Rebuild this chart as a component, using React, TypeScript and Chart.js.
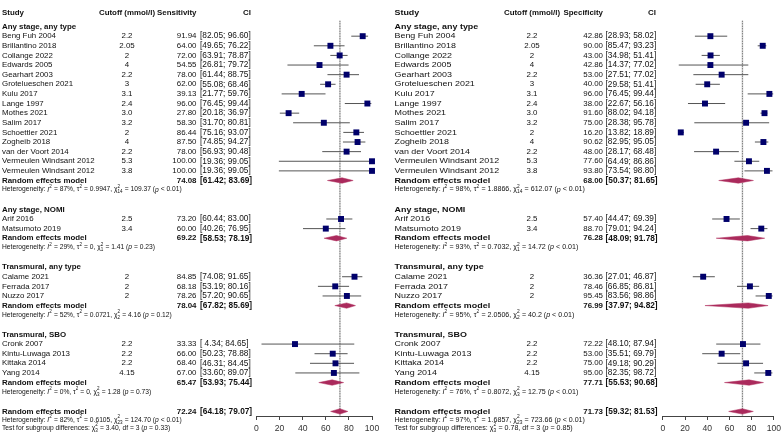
import React, { useEffect, useRef } from 'react';
import { Chart, registerables } from 'chart.js';

Chart.register(...registerables);

const FONT = "'Liberation Sans', Arial, Helvetica, sans-serif";

// ---------------- data ----------------
const groupNames = ['Any stage, any type', 'Any stage, NOMI', 'Transmural, any type', 'Transmural, SBO'];

const studies = [
  ['Beng Fuh 2004', 'Brillantino 2018', 'Collange 2022', 'Edwards 2005', 'Gearhart 2003', 'Grotelueschen 2021', 'Kulu 2017', 'Lange 1997', 'Mothes 2021', 'Salim 2017', 'Schoettler 2021', 'Zogheib 2018', 'van der Voort 2014', 'Vermeulen Windsant 2012', 'Vermeulen Windsant 2012'],
  ['Arif 2016', 'Matsumoto 2019'],
  ['Calame 2021', 'Ferrada 2017', 'Nuzzo 2017'],
  ['Cronk 2007', 'Kintu-Luwaga 2013', 'Kittaka 2014', 'Yang 2014'],
];

const cutoffs = [
  ['2.2', '2.05', '2', '4', '2.2', '3', '3.1', '2.4', '3.0', '3.2', '2', '4', '2.2', '5.3', '3.8'],
  ['2.5', '3.4'],
  ['2', '2', '2'],
  ['2.2', '2.2', '2.2', '4.15'],
];

const sensEst = [
  [91.94, 64.0, 72.0, 54.55, 78.0, 62.0, 39.13, 96.0, 27.8, 58.3, 86.44, 87.5, 78.0, 100.0, 100.0],
  [73.2, 60.0],
  [84.85, 68.18, 78.26],
  [33.33, 66.0, 68.4, 67.0],
];
const sensLo = [
  [82.05, 49.65, 63.91, 26.81, 61.44, 55.08, 21.77, 76.45, 20.18, 31.7, 75.16, 74.85, 56.93, 19.36, 19.36],
  [60.44, 40.26],
  [74.08, 53.19, 57.2],
  [4.34, 50.23, 46.31, 33.6],
];
const sensHi = [
  [96.6, 76.22, 78.87, 79.72, 88.75, 68.46, 59.76, 99.44, 36.97, 80.81, 93.07, 94.27, 90.48, 99.05, 99.05],
  [83.0, 76.95],
  [91.65, 80.16, 90.65],
  [84.65, 78.88, 84.45, 89.07],
];
const sensPooled = [
  [74.08, 61.42, 83.69],
  [69.22, 58.53, 78.19],
  [78.04, 67.82, 85.69],
  [65.47, 53.93, 75.44],
];
const sensOverall = [72.24, 64.18, 79.07];
const sensHet = [
  { i2: '87%', tau2: '0.9947', df: '14', q: '109.37', p: '< 0.01' },
  { i2: '29%', tau2: '0', df: '1', q: '1.41', p: '= 0.23' },
  { i2: '52%', tau2: '0.0721', df: '2', q: '4.16', p: '= 0.12' },
  { i2: '0%', tau2: '0', df: '3', q: '1.28', p: '= 0.73' },
];
const sensOverallHet = { i2: '82%', tau2: '0.6105', df: '23', q: '124.70', p: '< 0.01' };
const sensTest = { df: '3', q: '3.40', p: '= 0.33' };

const specEst = [
  [42.86, 90.0, 43.0, 42.86, 53.0, 40.0, 96.0, 38.0, 91.6, 75.0, 16.2, 90.62, 48.0, 77.6, 93.8],
  [57.4, 88.7],
  [36.36, 78.46, 95.45],
  [72.22, 53.0, 75.0, 95.0],
];
const specLo = [
  [28.93, 85.47, 34.98, 14.37, 27.51, 29.58, 76.45, 22.67, 88.02, 28.38, 13.82, 82.95, 28.17, 64.49, 73.54],
  [44.47, 79.01],
  [27.01, 66.85, 83.56],
  [48.1, 35.51, 49.18, 82.35],
];
const specHi = [
  [58.02, 93.23, 51.41, 77.02, 77.02, 51.41, 99.44, 56.16, 94.18, 95.78, 18.89, 95.05, 68.48, 86.86, 98.8],
  [69.39, 94.24],
  [46.87, 86.81, 98.86],
  [87.94, 69.79, 90.29, 98.72],
];
const specPooled = [
  [68.0, 50.37, 81.65],
  [76.28, 48.09, 91.78],
  [76.99, 37.97, 94.82],
  [77.71, 55.53, 90.68],
];
const specOverall = [71.73, 59.32, 81.53];
const specHet = [
  { i2: '98%', tau2: '1.8866', df: '14', q: '612.07', p: '< 0.01' },
  { i2: '93%', tau2: '0.7032', df: '1', q: '14.72', p: '< 0.01' },
  { i2: '95%', tau2: '2.0506', df: '2', q: '40.2', p: '< 0.01' },
  { i2: '76%', tau2: '0.8072', df: '3', q: '12.75', p: '< 0.01' },
];
const specOverallHet = { i2: '97%', tau2: '1.6857', df: '23', q: '723.66', p: '< 0.01' };
const specTest = { df: '3', q: '0.78', p: '= 0.85' };

const xTicks = [0, 20, 40, 60, 80, 100];

// ---------------- layout ----------------
const ROW0 = 32.3; // pixel y of first study row
const ROWH = 9.72; // pixel per row
const PLOT_BOTTOM = 416;
const H = 437;
const W = 392;

type Panel = {
  header: string;
  est: number[][];
  lo: number[][];
  hi: number[][];
  pooled: number[][];
  overall: number[];
  het: any[];
  overallHet: any;
  test: any;
  axisL: number;
  axisR: number;
  cStudy: number;
  cCut: number;
  cVal: number;
  cCI: number;
  cCIhead: number;
  sxLabel: number;
  sxHet: number;
};

const panels: Panel[] = [
  {
    header: 'Sensitivity', est: sensEst, lo: sensLo, hi: sensHi, pooled: sensPooled, overall: sensOverall,
    het: sensHet, overallHet: sensOverallHet, test: sensTest,
    axisL: 256.5, axisR: 372, cStudy: 2, cCut: 127, cVal: 196.5, cCI: 200, cCIhead: 251, sxLabel: 1, sxHet: 1,
  },
  {
    header: 'Specificity', est: specEst, lo: specLo, hi: specHi, pooled: specPooled, overall: specOverall,
    het: specHet, overallHet: specOverallHet, test: specTest,
    axisL: 270.8, axisR: 385.3, cStudy: 2.5, cCut: 140, cVal: 211, cCI: 213.5, cCIhead: 264, sxLabel: 1.13, sxHet: 1.06,
  },
];

const FS_TEXT = 7.9;
const FS_NUM = 7.9;
const FS_CI = 8.3;
const FS_HET = 6.7;

function buildRows() {
  const label: number[] = [];
  const study: number[][] = [];
  const pooled: number[] = [];
  const het: number[] = [];
  let r = -1;
  groupNames.forEach((_, gi) => {
    label.push(r);
    r++;
    study.push(studies[gi].map(() => r++));
    pooled.push(r++);
    het.push(r++);
    r++;
  });
  return { label, study, pooled, het, overall: r };
}
const ROWS = buildRows();

const f2 = (v: number) => v.toFixed(2);
const ciStr = (lo: number, hi: number) => '[' + f2(lo).padStart(5, ' ') + '; ' + f2(hi).padStart(5, ' ') + ']';

type Seg = { t?: string; i?: boolean; sup?: string; sub?: string };

function hetSegs(h: any): Seg[] {
  return [
    { t: 'Heterogeneity: ' }, { t: 'I', i: true }, { sup: '2' }, { t: ' = ' + h.i2 + ', ' },
    { t: 'τ' }, { sup: '2' }, { t: ' = ' + h.tau2 + ', ' },
    { t: 'χ' }, { sup: '2', sub: h.df }, { t: ' = ' + h.q + ' (' }, { t: 'p', i: true }, { t: ' ' + h.p + ')' },
  ];
}
function testSegs(tst: any): Seg[] {
  return [
    { t: 'Test for subgroup differences: ' }, { t: 'χ' }, { sup: '2', sub: tst.df },
    { t: ' = ' + tst.q + ', df = ' + tst.df + ' (' }, { t: 'p', i: true }, { t: ' ' + tst.p + ')' },
  ];
}

function drawRich(ctx: CanvasRenderingContext2D, x: number, y: number, segs: Seg[], size: number, sx: number) {
  ctx.save();
  ctx.translate(x, y);
  ctx.scale(sx, 1);
  let cx = 0;
  ctx.textBaseline = 'middle';
  ctx.textAlign = 'left';
  for (const s of segs) {
    if (s.t !== undefined) {
      ctx.font = (s.i ? 'italic ' : '') + size + 'px ' + FONT;
      ctx.fillText(s.t, cx, 0);
      cx += ctx.measureText(s.t).width;
    } else {
      const ss = size * 0.68;
      ctx.font = ss + 'px ' + FONT;
      let w = 0;
      if (s.sup) {
        ctx.fillText(s.sup, cx, -size * 0.42);
        w = Math.max(w, ctx.measureText(s.sup).width);
      }
      if (s.sub) {
        ctx.fillText(s.sub, cx, size * 0.38);
        w = Math.max(w, ctx.measureText(s.sub).width);
      }
      cx += w + 0.3;
    }
  }
  ctx.restore();
}

function makeChart(canvas: HTMLCanvasElement, p: Panel) {
  const yMin = (0 - ROW0) / ROWH;
  const yMax = (PLOT_BOTTOM - ROW0) / ROWH;
  const datasets: any[] = [];

  // CI whiskers
  p.est.forEach((g, gi) => {
    g.forEach((_, si) => {
      const r = ROWS.study[gi][si];
      datasets.push({
        type: 'scatter', showLine: true, pointRadius: 0, borderColor: '#555555', borderWidth: 1,
        data: [{ x: p.lo[gi][si], y: r }, { x: p.hi[gi][si], y: r }], clip: false, order: 3,
      });
    });
  });
  // squares
  const pts: any[] = [];
  p.est.forEach((g, gi) => g.forEach((v, si) => pts.push({ x: v, y: ROWS.study[gi][si] })));
  datasets.push({
    type: 'scatter', data: pts, pointStyle: 'rect', pointRadius: 4.2, pointBackgroundColor: '#00006b',
    pointBorderWidth: 0, borderWidth: 0, clip: false, order: 1,
  });
  // diamonds
  const dh = 0.28;
  const diamonds = [...p.pooled.map((d, gi) => ({ d, r: ROWS.pooled[gi] })), { d: p.overall, r: ROWS.overall }];
  diamonds.forEach(({ d, r }) => {
    datasets.push({
      type: 'scatter', showLine: true, pointRadius: 0, tension: 0,
      borderColor: '#b0305f', borderWidth: 0.5, backgroundColor: '#aa2a5c', fill: 'shape', clip: false, order: 2,
      data: [{ x: d[1], y: r }, { x: d[0], y: r - dh }, { x: d[2], y: r }, { x: d[0], y: r + dh }, { x: d[1], y: r }],
    });
  });

  const refLine = {
    id: 'refLine',
    beforeDatasetsDraw(chart: any) {
      const ctx = chart.ctx;
      const x = chart.scales.x.getPixelForValue(p.overall[0]);
      const y0 = chart.scales.y.getPixelForValue(-1.6);
      const y1 = chart.chartArea.bottom;
      ctx.save();
      ctx.strokeStyle = '#d2d2d2';
      ctx.lineWidth = 1.6;
      ctx.beginPath(); ctx.moveTo(x, y0); ctx.lineTo(x, y1); ctx.stroke();
      ctx.strokeStyle = '#666666';
      ctx.lineWidth = 1;
      ctx.setLineDash([1, 1.5]);
      ctx.beginPath(); ctx.moveTo(x, y0); ctx.lineTo(x, y1); ctx.stroke();
      ctx.restore();
    },
  };

  const textPlugin = {
    id: 'forestText',
    afterDraw(chart: any) {
      const ctx: CanvasRenderingContext2D = chart.ctx;
      const ys = chart.scales.y;
      const Y = (r: number) => ys.getPixelForValue(r);
      const fnt = (b: boolean, s: number) => (b ? 'bold ' : '') + s + 'px ' + FONT;
      ctx.save();
      ctx.fillStyle = '#111';
      ctx.textBaseline = 'middle';
      const put = (t: string, x: number, y: number, align: CanvasTextAlign, font: string, sx = 1) => {
        ctx.save();
        ctx.font = font;
        ctx.textAlign = align;
        ctx.translate(x, y);
        ctx.scale(sx, 1);
        ctx.fillText(t, 0, 0);
        ctx.restore();
      };
      const sl = p.sxLabel;
      // header
      const hy = Y(-2.42);
      put('Study', p.cStudy, hy, 'left', fnt(true, FS_TEXT), sl);
      put('Cutoff (mmol/l)', p.cCut, hy, 'center', fnt(true, FS_TEXT));
      put(p.header, p.cVal, hy, 'right', fnt(true, FS_TEXT));
      put('CI', p.cCIhead, hy, 'right', fnt(true, FS_TEXT));

      groupNames.forEach((gname, gi) => {
        put(gname, p.cStudy, Y(ROWS.label[gi]), 'left', fnt(true, FS_TEXT), sl);
        studies[gi].forEach((s, si) => {
          const y = Y(ROWS.study[gi][si]);
          put(s, p.cStudy, y, 'left', fnt(false, FS_TEXT), sl);
          put(cutoffs[gi][si], p.cCut, y, 'center', fnt(false, FS_NUM));
          put(f2(p.est[gi][si]), p.cVal, y, 'right', fnt(false, FS_NUM));
          put(ciStr(p.lo[gi][si], p.hi[gi][si]), p.cCI, y, 'left', fnt(false, FS_CI));
        });
        const py = Y(ROWS.pooled[gi]);
        put('Random effects model', p.cStudy, py, 'left', fnt(true, FS_TEXT), sl);
        put(f2(p.pooled[gi][0]), p.cVal, py, 'right', fnt(true, FS_NUM));
        put(ciStr(p.pooled[gi][1], p.pooled[gi][2]), p.cCI, py, 'left', fnt(true, FS_CI));
        drawRich(ctx, p.cStudy, Y(ROWS.het[gi] - 0.05), hetSegs(p.het[gi]), FS_HET, p.sxHet);
      });
      const oy = Y(ROWS.overall);
      put('Random effects model', p.cStudy, oy, 'left', fnt(true, FS_TEXT), sl);
      put(f2(p.overall[0]), p.cVal, oy, 'right', fnt(true, FS_NUM));
      put(ciStr(p.overall[1], p.overall[2]), p.cCI, oy, 'left', fnt(true, FS_CI));
      drawRich(ctx, p.cStudy, Y(ROWS.overall + 0.88), hetSegs(p.overallHet), FS_HET, p.sxHet);
      drawRich(ctx, p.cStudy, Y(ROWS.overall + 1.72), testSegs(p.test), FS_HET, p.sxHet);
      ctx.restore();
    },
  };

  return new Chart(canvas, {
    type: 'scatter',
    data: { datasets },
    options: {
      animation: false,
      responsive: false,
      devicePixelRatio: 1,
      layout: { padding: { left: p.axisL, right: W - p.axisR, top: 0, bottom: 0 } },
      plugins: { legend: { display: false }, tooltip: { enabled: false } },
      events: [],
      scales: {
        x: {
          type: 'linear', position: 'bottom', min: 0, max: 100,
          afterFit: (s: any) => { s.height = H - PLOT_BOTTOM; },
          afterBuildTicks: (s: any) => { s.ticks = xTicks.map((v) => ({ value: v })); },
          grid: { drawOnChartArea: false, drawTicks: true, tickLength: 4, color: '#444', lineWidth: 1 },
          border: { display: true, color: '#444', width: 1 },
          ticks: { font: { size: 8.6, family: FONT }, color: '#333', padding: 3, maxRotation: 0, autoSkip: false },
        },
        y: { type: 'linear', display: false, reverse: true, min: yMin, max: yMax },
      },
    } as any,
    plugins: [refLine, textPlugin],
  });
}

function ForestPanel({ p, left }: { p: Panel; left: number }) {
  const ref = useRef<HTMLCanvasElement>(null);
  useEffect(() => {
    const c = makeChart(ref.current as HTMLCanvasElement, p);
    return () => c.destroy();
  }, [p]);
  return (
    <canvas
      ref={ref}
      width={W}
      height={H}
      style={{ position: 'absolute', left, top: 0, width: W, height: H, display: 'block' }}
    />
  );
}

export default function App() {
  return (
    <div style={{ position: 'absolute', left: 0, top: 0, width: 784, height: 437, background: '#fff', overflow: 'hidden' }}>
      <ForestPanel p={panels[0]} left={0} />
      <ForestPanel p={panels[1]} left={392} />
    </div>
  );
}
